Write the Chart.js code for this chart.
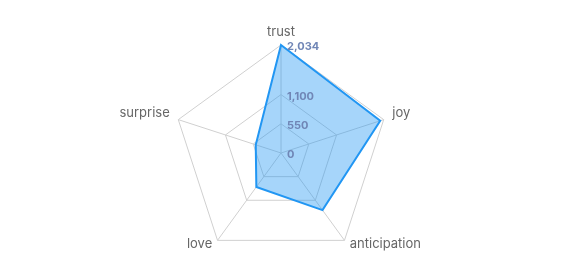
<!DOCTYPE html>
<html lang="en">
<head>
    <meta charset="UTF-8">
    <title>Emotion Radar</title>
    <script src="https://cdn.jsdelivr.net/npm/chart.js"></script>
    <style>
        html, body { margin: 0; padding: 0; background: #fff; }
        #radarChart { display: block; }
    </style>
</head>
<body>
    <canvas id="radarChart" width="567" height="276"></canvas>

    <script>
        const emotions = ['trust', 'joy', 'anticipation', 'love', 'surprise'];
        const counts = [2034, 1965, 1330, 790, 500];
        const tickValues = [0, 550, 1100, 2034];

        // point labels + tick labels drawn by hand, positioned from the scale
        const labelPlugin = {
            id: 'radarLabels',
            afterDatasetsDraw(chart) {
                const scale = chart.scales.r;
                const ctx = chart.ctx;
                ctx.save();

                // emotion names just outside each spoke
                ctx.font = '13px Inter, sans-serif';
                ctx.fillStyle = '#666';
                ctx.textBaseline = 'middle';
                chart.data.labels.forEach((name, i) => {
                    const p = scale.getPointPosition(i, scale.drawingArea + 9);
                    const dx = p.x - scale.xCenter;
                    ctx.textAlign = Math.abs(dx) < 1 ? 'center' : (dx > 0 ? 'left' : 'right');
                    ctx.fillText(name, p.x, p.y - 4);
                });

                // value ticks along the first spoke
                ctx.font = 'bold 11px Inter, sans-serif';
                ctx.fillStyle = '#7086b6';
                ctx.textAlign = 'left';
                scale.ticks.forEach(t => {
                    const d = scale.getDistanceFromCenterForValue(t.value);
                    ctx.fillText(t.value.toLocaleString('en-US'), scale.xCenter + 6, scale.yCenter - d + 2);
                });
                ctx.restore();
            }
        };

        const ctx = document.getElementById('radarChart').getContext('2d');
        new Chart(ctx, {
            type: 'radar',
            data: {
                labels: emotions,
                datasets: [{
                    label: 'count',
                    data: counts,
                    backgroundColor: 'rgba(33, 150, 243, 0.4)',
                    borderColor: 'rgb(33, 150, 243)',
                    borderWidth: 2,
                    pointRadius: 0,
                    fill: true
                }]
            },
            options: {
                responsive: false,
                animation: false,
                layout: { padding: { top: 45, bottom: 15, left: 0, right: 4 } },
                plugins: {
                    legend: { display: false },
                    tooltip: { enabled: false }
                },
                scales: {
                    r: {
                        min: 0,
                        max: 2034,
                        afterBuildTicks(scale) {
                            scale.ticks = tickValues.map(v => ({ value: v }));
                        },
                        ticks: { display: false },
                        grid: { color: '#d0d0d0' },
                        angleLines: { color: '#d0d0d0' },
                        pointLabels: { display: false }
                    }
                }
            },
            plugins: [labelPlugin]
        });
    </script>
</body>
</html>
